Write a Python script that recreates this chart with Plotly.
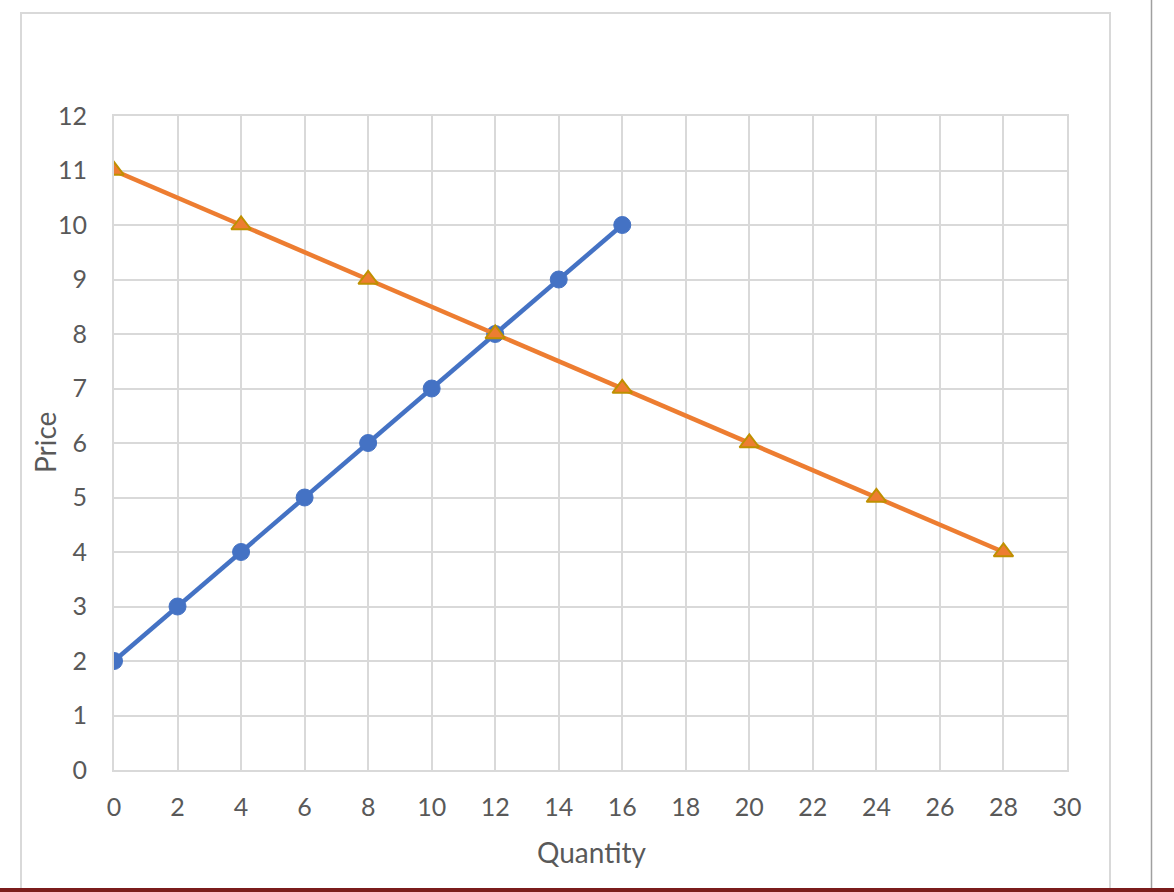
import plotly.graph_objects as go

supply_q = [0, 2, 4, 6, 8, 10, 12, 14, 16]
supply_p = [2, 3, 4, 5, 6, 7, 8, 9, 10]
demand_q = [0, 4, 8, 12, 16, 20, 24, 28]
demand_p = [11, 10, 9, 8, 7, 6, 5, 4]

W, H = 1174, 892
L, R, T, B = 114, 1067, 116, 770  # plot area pixel edges
pw, ph = R - L, B - T

def px(x):
    return (x - L) / pw

def py(y):
    return (B - y) / ph

fig = go.Figure()
fig.add_trace(go.Scatter(
    x=supply_q, y=supply_p, mode="lines+markers", name="Supply",
    line=dict(color="#4472C4", width=4.5),
    marker=dict(symbol="circle", size=17, color="#4472C4", line=dict(color="#4472C4", width=1)),
))
fig.add_trace(go.Scatter(
    x=demand_q, y=demand_p, mode="lines+markers", name="Demand",
    line=dict(color="#ED7D31", width=4.5),
    marker=dict(symbol="triangle-up", size=17, color="#ED7D31", line=dict(color="#BF9000", width=2)),
))

grid = "#D9D9D9"
font_color = "#595959"
fam = "Lato, 'Open Sans', sans-serif"

fig.update_layout(
    width=W, height=H, autosize=False,
    margin=dict(l=L, r=W - R, t=T, b=H - B, pad=0, autoexpand=False),
    paper_bgcolor="white", plot_bgcolor="white",
    showlegend=False,
    font=dict(family=fam, size=25, color=font_color),
    xaxis=dict(
        range=[0, 30], dtick=2, tick0=0, showgrid=True, gridcolor=grid, gridwidth=2,
        zeroline=False, showline=True, linecolor=grid, linewidth=2, mirror=True,
        ticks="", ticklabelstandoff=14, tickfont=dict(size=25, color=font_color),
        automargin=False, fixedrange=True,
    ),
    yaxis=dict(
        range=[0, 12], dtick=1, tick0=0, showgrid=True, gridcolor=grid, gridwidth=2,
        zeroline=False, showline=True, linecolor=grid, linewidth=2, mirror=True,
        ticks="", ticklabelstandoff=20, tickfont=dict(size=25, color=font_color),
        automargin=False, fixedrange=True,
    ),
    annotations=[
        dict(text="Quantity", xref="paper", yref="paper", x=px(591), y=py(852),
             xanchor="center", yanchor="middle", showarrow=False,
             font=dict(size=28, color=font_color)),
        dict(text="Price", xref="paper", yref="paper", x=px(45), y=py(443),
             xanchor="center", yanchor="middle", showarrow=False, textangle=-90,
             font=dict(size=28, color=font_color)),
    ],
    shapes=[
        dict(type="rect", xref="paper", yref="paper",
             x0=px(21), x1=px(1110), y0=py(900), y1=py(13),
             line=dict(color="#D9D9D9", width=2), fillcolor="rgba(0,0,0,0)", layer="below"),
        dict(type="line", xref="paper", yref="paper",
             x0=px(1151.5), x1=px(1151.5), y0=py(900), y1=py(0),
             line=dict(color="#A0A0A0", width=1.5)),
        dict(type="rect", xref="paper", yref="paper",
             x0=px(0), x1=px(1174), y0=py(892), y1=py(888),
             line=dict(width=0), fillcolor="#7B1C1C"),
    ],
)

fig.write_html(
    "out.html",
    config={"displayModeBar": False, "staticPlot": True},
    post_script="document.body.style.margin='0';document.body.style.padding='0';document.body.style.overflow='hidden';",
)
